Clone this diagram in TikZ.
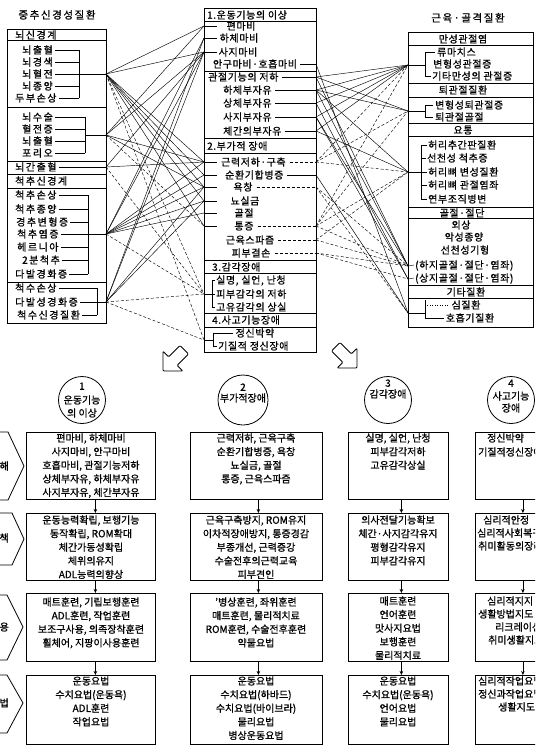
\documentclass[tikz,border=0pt]{standalone}
\usepackage{fontspec}
\setmainfont{Noto Sans CJK KR}[FakeBold=0.9]
\newfontfamily\krA{Noto Sans CJK KR}[LetterSpace=6,FakeBold=0.9]
\newfontfamily\krB{Noto Sans CJK KR}[LetterSpace=15,FakeBold=0.9]
\usetikzlibrary{arrows.meta}
\newcommand\fsz{\fontsize{10}{13.6}\selectfont}
\newcommand\stackl[5]{\foreach \t [count=\i from 0] in {#5}{\node[lb, anchor=#2] (#1\i) at (#3,{#4+\i*13.6}) {\t};}}
\tikzset{
  lb/.style={inner sep=0pt, font=\fsz, text height=8.5pt, text depth=1pt},
  lm/.style={lb, font=\fsz\krA},
  ll/.style={lb, font=\fsz\krB},
  wire/.style={line width=0.45pt},
  dwire/.style={line width=0.45pt, dash pattern=on 3pt off 2pt},
  rule/.style={line width=0.6pt},
  bx/.style={draw, line width=0.8pt, inner sep=0pt, anchor=north west},
  circ/.style={draw, circle, line width=0.8pt, inner sep=0pt, minimum size=47pt},
  arr/.style={line width=0.6pt, -{Stealth[length=4pt,width=3.5pt]}},
  harrow/.style={line width=0.9pt, rounded corners=1pt},
}
\begin{document}
\begin{tikzpicture}[x=1pt,y=-1pt]
\useasboundingbox (0,0) rectangle (535,746);
\fill[white] (0,0) rectangle (535,746);
\clip (0,0) rectangle (535,746);

% titles
\node[lb, font=\fontsize{10.5}{13}\selectfont\krB] (t1) at (57,15) {중추신경성질환};
\node[lb, font=\fontsize{10.5}{13}\selectfont\krB] (t2) at (468,18) {근육·골격질환};

% ---------------- left box ----------------
\node[bx, minimum width=99, minimum height=294] (LB) at (7,29) {};
\foreach \yy in {40,107,161,174,188,282} \draw[rule] (7,\yy) -- (106,\yy);
\node[ll, anchor=west] (l0) at (15,35) {뇌신경계};
\node[ll, anchor=west] (l1) at (22,50) {뇌출혈};
\node[ll, anchor=west] (l2) at (22,62) {뇌경색};
\node[ll, anchor=west] (l3) at (22,74) {뇌혈전};
\node[ll, anchor=west] (l4) at (22,86) {뇌종양};
\node[ll, anchor=west] (l5) at (15,98) {두부손상};
\node[ll, anchor=west] (l6) at (22,117) {뇌수술};
\node[ll, anchor=west] (l7) at (22,129) {혈전증};
\node[ll, anchor=west] (l8) at (22,141) {뇌출혈};
\node[ll, anchor=west] (l9) at (22,153) {포리오};
\node[ll, anchor=west] (l10) at (15,167) {뇌간출혈};
\node[ll, anchor=west] (l11) at (15,181) {척추신경계};
\node[ll, anchor=west] (l12) at (15,195) {척추손상};
\node[ll, anchor=west] (l13) at (15,209) {척추종양};
\node[ll, anchor=west] (l14) at (16,222) {경추변형증};
\node[ll, anchor=west] (l15) at (17,234) {척추염증};
\node[ll, anchor=west] (l16) at (17,247) {헤르니아};
\node[ll, anchor=west] (l17) at (22,260) {2분척추};
\node[ll, anchor=west] (l18) at (15,274) {다발경화증};
\node[ll, anchor=west] (l19) at (15,288) {척수손상};
\node[ll, anchor=west] (l20) at (15,302) {다발성경화증};
\node[ll, anchor=west] (l21) at (17,315) {척수신경질환};

\coordinate (L1) at (106,74);
\coordinate (L2) at (106,135);
\coordinate (L3) at (106,167);
\coordinate (L4) at (106,234);
\coordinate (L5) at (106,302);
% brackets
\foreach \n in {l1,l2,l3,l4,l5} \draw[wire] ([xshift=2pt]\n.east) -- (\n.east -| 79,0);
\draw[wire] (79,50) -- (79,98); \draw[wire] (79,74) -- (L1);
\foreach \n in {l6,l7,l8,l9} \draw[wire] ([xshift=2pt]\n.east) -- (\n.east -| 85,0);
\draw[wire] (85,117) -- (85,153); \draw[wire] (85,135) -- (L2);
\draw[wire] ([xshift=2pt]l10.east) -- (L3);
\foreach \n in {l12,l13,l14,l15,l16,l17,l18} \draw[wire] ([xshift=2pt]\n.east) -- (\n.east -| 88,0);
\draw[wire] (88,195) -- (88,274); \draw[wire] (88,234) -- (L4);
\foreach \n in {l19,l20,l21} \draw[wire] ([xshift=2pt]\n.east) -- (\n.east -| 97,0);
\draw[wire] (97,288) -- (97,315); \draw[wire] (97,302) -- (L5);

% ---------------- middle box ----------------
\node[bx, minimum width=112, minimum height=344] (MB) at (204,8) {};
\foreach \yy in {21,71,138,153,260,273,313,327} \draw[rule] (204,\yy) -- (316,\yy);
\node[lm, anchor=west] (mh1) at (207,15) {1.운동기능의 이상};
\node[lm] (m1) at (241,26) {편마비};
\node[lm] (m2) at (239,38) {하체마비};
\node[lm] (m3) at (238,52) {사지마비};
\node[lm] (m4) at (255,64) {안구마비·호흡마비};
\node[lm, anchor=west] (m5) at (208,77) {관절기능의 저하};
\node[lm, anchor=west] (m6) at (223,90) {하체부자유};
\node[lm, anchor=west] (m7) at (223,103) {상체부자유};
\node[lm, anchor=west] (m8) at (223,117) {사지부자유};
\node[lm, anchor=west] (m9) at (223,131) {체간의부자유};
\node[lm, anchor=west] (mh2) at (207,146) {2.부가적 장애};
\node[lm, anchor=west] (m10) at (221,162) {근력저하·구축};
\node[lm, anchor=west] (m11) at (225,175) {순환기합병증};
\node[lm] (m12) at (243,187) {욕창};
\node[lm] (m13) at (245,201) {뇨실금};
\node[lm] (m14) at (244,213) {골절};
\node[lm] (m15) at (244,226) {통증};
\node[lm] (m16) at (250,240) {근육스파즘};
\node[lm] (m17) at (251,253) {피부결손};
\node[lm, anchor=west] (mh3) at (212,267) {3.감각장애};
\node[lm, anchor=west] (m18) at (216,280) {실명, 실언, 난청};
\node[lm, anchor=west] (m19) at (216,294) {피부감각의 저하};
\node[lm, anchor=west] (m20) at (216,307) {고유감각의 상실};
\node[lm, anchor=west] (mh4) at (212,320) {4.사고기능장애};
\node[lm] (m21) at (255,333) {정신박약};
\node[lm, anchor=west] (m22) at (218,346) {기질적 정신장애};

% middle left attachment points
\coordinate (P1) at (204,26);
\coordinate (P2) at (204,38);
\coordinate (P3) at (204,52);
\coordinate (P4) at (204,162);
\coordinate (P5) at (204,175);
\coordinate (P6) at (204,187);
\coordinate (P7) at (204,201);
\coordinate (P8) at (204,213);
\coordinate (P9) at (204,226);
\coordinate (P10) at (204,294);
\coordinate (P11) at (204,340);
\foreach \p in {P1,P2,P3,P4,P5,P6,P7,P8,P9} \draw[wire] (\p) -- ++(13,0);
\draw[wire] ([xshift=-1pt]m18.west) -- (212,280) -- (212,307) -- ([xshift=-1pt]m20.west);
\draw[wire] (P10) -- ([xshift=-1pt]m19.west);
\draw[wire] ([xshift=-3pt]m21.west) -- (213,333) -- (213,346) -- ([xshift=-1pt]m22.west);
\draw[wire] (P11) -- (213,340);

% middle right attachment points
\coordinate (Q1) at (316,64);
\coordinate (Q2) at (316,77);
\coordinate (Q3) at (316,90);
\coordinate (Q4) at (316,103);
\coordinate (Q5) at (316,117);
\coordinate (Q6) at (316,131);
\coordinate (Q7) at (316,162);
\coordinate (Q8) at (316,175);
\coordinate (Q9) at (316,187);
\coordinate (Q10) at (316,226);
\coordinate (Q11) at (316,240);
\coordinate (Q12) at (316,253);
\foreach \n/\q in {m4/Q1,m5/Q2,m6/Q3,m7/Q4,m8/Q5,m9/Q6,m11/Q8} \draw[wire] ([xshift=3pt]\n.east) -- (\q);
\foreach \n/\q in {m10/Q7,m12/Q9,m15/Q10,m16/Q11,m17/Q12} \draw[dwire] ([xshift=4pt]\n.east) -- (\q);

% ---------------- right box ----------------
\node[bx, minimum width=125, minimum height=295] (RB) at (408,32) {};
\foreach \yy in {45,83,97,123,136,207,218,285,298} \draw[rule] (408,\yy) -- (533,\yy);
\node[lm] (r0) at (463,39) {만성관절염};
\node[lm, anchor=west] (r1) at (437,52) {류마치스};
\node[lm, anchor=west] (r2) at (433,64) {변형성관절증};
\node[lm, anchor=west] (r3) at (432,76) {기타만성의 관절증};
\node[lm] (r4) at (463,90) {퇴관절질환};
\node[lm, anchor=west] (r5) at (435,105) {변형성퇴관절증};
\node[lm, anchor=west] (r6) at (435,117) {퇴관절골절};
\node[lm] (r7) at (463,130) {요통};
\node[lm, anchor=west] (r8) at (428,145) {허리추간판질환};
\node[lm, anchor=west] (r9) at (427,158) {선천성 척추증};
\node[lm, anchor=west] (r10) at (428,172) {허리뼈 변성질환};
\node[lm, anchor=west] (r11) at (428,185) {허리뼈 관절염좌};
\node[lm, anchor=west] (r12) at (428,199) {연부조직병변};
\node[lm] (r13) at (462,213) {골절·절단};
\node[lm] (r14) at (461,225) {외상};
\node[lm] (r15) at (464,237) {악성종양};
\node[lm] (r16) at (465,250) {선천성기형};
\node[lm, anchor=west] (r17) at (415,265) {(하지골절·절단·염좌)};
\node[lm, anchor=west] (r18) at (415,278) {(상지골절·절단·염좌)};
\node[lm] (r19) at (466,292) {기타질환};
\node[lm] (r20) at (466,305) {심질환};
\node[lm] (r21) at (470,318) {호흡기질환};

\coordinate (R1) at (408,65);
\coordinate (R2) at (408,111);
\coordinate (R3) at (408,172);
\coordinate (R4) at (408,266);
\coordinate (R5) at (408,279);
\coordinate (R6) at (408,313);
\draw[wire] ([xshift=-2pt]r1.west) -- (425,52) -- (425,76) -- ([xshift=-1pt]r3.west);
\draw[wire] (R1) -- (425,65);
\draw[wire] ([xshift=-2pt]r5.west) -- (425,105) -- (425,117) -- ([xshift=-2pt]r6.west);
\draw[wire] (R2) -- (425,111);
\draw[wire] (421,145) -- (421,199);
\foreach \n in {r8,r9,r10,r11,r12} \draw[wire] (\n.west -| 421,0) -- ([xshift=-1pt]\n.west);
\draw[wire] (R3) -- (421,172);
\draw[wire] (R4) -- ([xshift=-1pt]r17.west);
\draw[wire] (R5) -- ([xshift=-1pt]r18.west);
\draw[wire] (425,300) -- (425,318) -- ([xshift=-2pt]r21.west);
\draw[wire, dotted] (425,305) -- ([xshift=-2pt]r20.west);
\draw[wire] (R6) -- (425,313);

% ---------------- connectors left -> middle ----------------
\foreach \a/\b in {L1/P1,L1/P3,L1/P4,L1/P5,L1/P6,L1/P7,L1/P9,
                   L2/P1,L2/P3,L2/P4,L2/P6,
                   L3/P3,L3/P4,
                   L4/P2,L4/P3,L4/P4,L4/P5,L4/P6,L4/P7,L4/P8,
                   L5/P2,L5/P3,L5/P6,L5/P7}
  \draw[wire] (\a) -- (\b);
\foreach \a/\b in {L1/P10,L1/P11,L2/P9,L3/P10,L4/P10,L5/P10,L5/P11}
  \draw[dwire] (\a) -- (\b);

% ---------------- connectors middle -> right ----------------
\foreach \a/\b in {Q1/R6,Q2/R1,Q2/R2,Q2/R4,Q3/R1,Q3/R2,Q3/R3,Q3/R4,
                   Q4/R1,Q4/R5,Q5/R1,Q5/R4,Q5/R5,Q6/R1,Q6/R3,Q8/R6}
  \draw[wire] (\a) -- (\b);
\foreach \a/\b in {Q7/R1,Q7/R2,Q7/R3,Q9/R4,Q9/R6,Q10/R1,Q10/R2,Q10/R3,Q10/R4,
                   Q11/R3,Q11/R4,Q12/R4,Q12/R5}
  \draw[dwire] (\a) -- (\b);

% ---------------- hollow arrows ----------------
\draw[harrow] (163,371) -- (163,351.2) -- (168.7,356.9) -- (180,345.5) -- (188.5,354) -- (177.1,365.3) -- (182.8,371) -- cycle;
\draw[harrow] (357,368) -- (357,348.2) -- (351.3,353.9) -- (340,342.5) -- (331.5,351) -- (342.9,362.3) -- (337.2,368) -- cycle;

% ---------------- circles ----------------
\node[circ] (c1) at (82,400) {};
\node[lb] (c1a) at (82,386) {1};
\node[lb] (c1b) at (82,400) {운동기능};
\node[lb] (c1c) at (82,413) {의 이상};
\node[circ, minimum size=50pt] (c2) at (243,400) {};
\node[lb] (c2a) at (243,387) {2};
\node[lb] (c2b) at (243,398) {부가적장애};
\node[circ] (c3) at (388,400) {};
\node[lb] (c3a) at (388,383) {3};
\node[lb] (c3b) at (388,394) {감각장애};
\node[circ] (c4) at (511,400) {};
\node[lb] (c4a) at (511,383) {4};
\node[lb] (c4b) at (511,396) {사고기능};
\node[lb] (c4c) at (511,408) {장애};

% ---------------- left pentagons ----------------
\draw[line width=0.8pt] (-5,432) -- (8,432) -- (24,466) -- (8,500) -- (-5,500);
\draw[line width=0.8pt] (-5,513) -- (12,513) -- (24,539) -- (12,565) -- (-5,565);
\draw[line width=0.8pt] (-5,595) -- (7,595) -- (23,627) -- (7,660) -- (-5,660);
\draw[line width=0.8pt] (-5,675) -- (7,675) -- (23,703) -- (7,733) -- (-5,733);
\node[lb, anchor=east] (p1) at (9,466) {해};
\node[lb, anchor=east] (p2) at (9,538) {책};
\node[lb, anchor=east] (p3) at (9,627) {용};
\node[lb, anchor=east] (p4) at (9,703) {법};

% ---------------- bottom boxes ----------------
\foreach \c/\x/\w in {1/26/129,2/190/132,3/348/100,4/475/95}{
  \node[bx, minimum width=\w, minimum height=67] (b\c1) at (\x,432) {};
  \node[bx, minimum width=\w, minimum height=67] (b\c2) at (\x,513) {};
  \node[bx, minimum width=\w, minimum height=68] (b\c3) at (\x,593) {};
  \node[bx, minimum width=\w, minimum height=69] (b\c4) at (\x,675) {};
}
\foreach \c/\s in {1/4.5,2/2,3/3,4/0}{
  \draw[arr] ([xshift=\s pt]b\c1.south) -- ([xshift=\s pt]b\c2.north);
  \draw[arr] ([xshift=\s pt]b\c2.south) -- ([xshift=\s pt]b\c3.north);
  \draw[arr] ([xshift=\s pt]b\c3.south) -- ([xshift=\s pt]b\c4.north);
}

\stackl{sa}{center}{91}{438}{{편마비, 하체마비},{사지마비, 안구마비},{호흡마비, 관절기능저하},{상체부자유, 하체부자유},{사지부자유, 체간부자유}}
\stackl{sb}{center}{91}{520}{{운동능력확립, 보행기능},{동작확립, ROM확대},{체간가동성확립},{체위의유지},{ADL능력의향상}}
\stackl{sc}{center}{91}{602}{{매트훈련, 기립보행훈련},{ADL훈련, 작업훈련},{보조구사용, 의족장착훈련},{휠체어, 지팡이사용훈련}}
\stackl{sd}{center}{91}{681}{{운동요법},{수치요법(운동욕)},{ADL훈련},{작업요법}}

\stackl{ta}{center}{256}{438}{{근력저하, 근육구축},{순환기합병증, 욕창},{뇨실금, 골절},{통증, 근육스파즘}}
\stackl{tb}{center}{256}{520}{{근육구축방지, ROM유지},{이차적장애방지, 통증경감},{부종개선, 근력증강},{수술전후의근력교육},{피부견인}}
\stackl{tc}{center}{256}{602}{{'병상훈련, 좌위훈련},{매트훈련, 물리적치료},{ROM훈련, 수술전후훈련},{약물요법}}
\stackl{td}{center}{256}{681}{{운동요법},{수치요법(하바드)},{수치요법(바이브라)},{물리요법},{병상운동요법}}

\stackl{ua}{center}{398}{438}{{실명, 실언, 난청},{피부감각저하},{고유감각상실}}
\stackl{ub}{center}{398}{520}{{의사전달기능확보},{체간·사지감각유지},{평형감각유지},{피부감각유지}}
\stackl{uc}{center}{398}{601}{{매트훈련},{언어훈련},{맛사지요법},{보행훈련},{물리적치료}}
\stackl{ud}{center}{398}{681}{{운동요법},{수치요법(운동욕)},{언어요법},{물리요법}}

\node[lb, anchor=west] (v1) at (487,438) {정신박약};
\node[lb, anchor=west] (v2) at (478,452) {기질적정신장애};
\node[lb, anchor=west] (v3) at (483,520) {심리적안정};
\node[lb, anchor=west] (v4) at (477,533) {심리적사회복귀};
\node[lb, anchor=west] (v5) at (478,546) {취미활동의장려};
\node[lb, anchor=west] (v6) at (487,601) {심리적지지};
\node[lb, anchor=west] (v7) at (478,614) {생활방법지도};
\node[lb, anchor=west] (v8) at (495,627) {리크레이션};
\node[lb, anchor=west] (v9) at (488,640) {취미생활지도};
\node[lb, anchor=west] (v10) at (478,681) {심리적작업요법};
\node[lb, anchor=west] (v11) at (478,694) {정신과작업요법};
\node[lb, anchor=west] (v12) at (498,707) {생활지도};
\end{tikzpicture}
\end{document}
